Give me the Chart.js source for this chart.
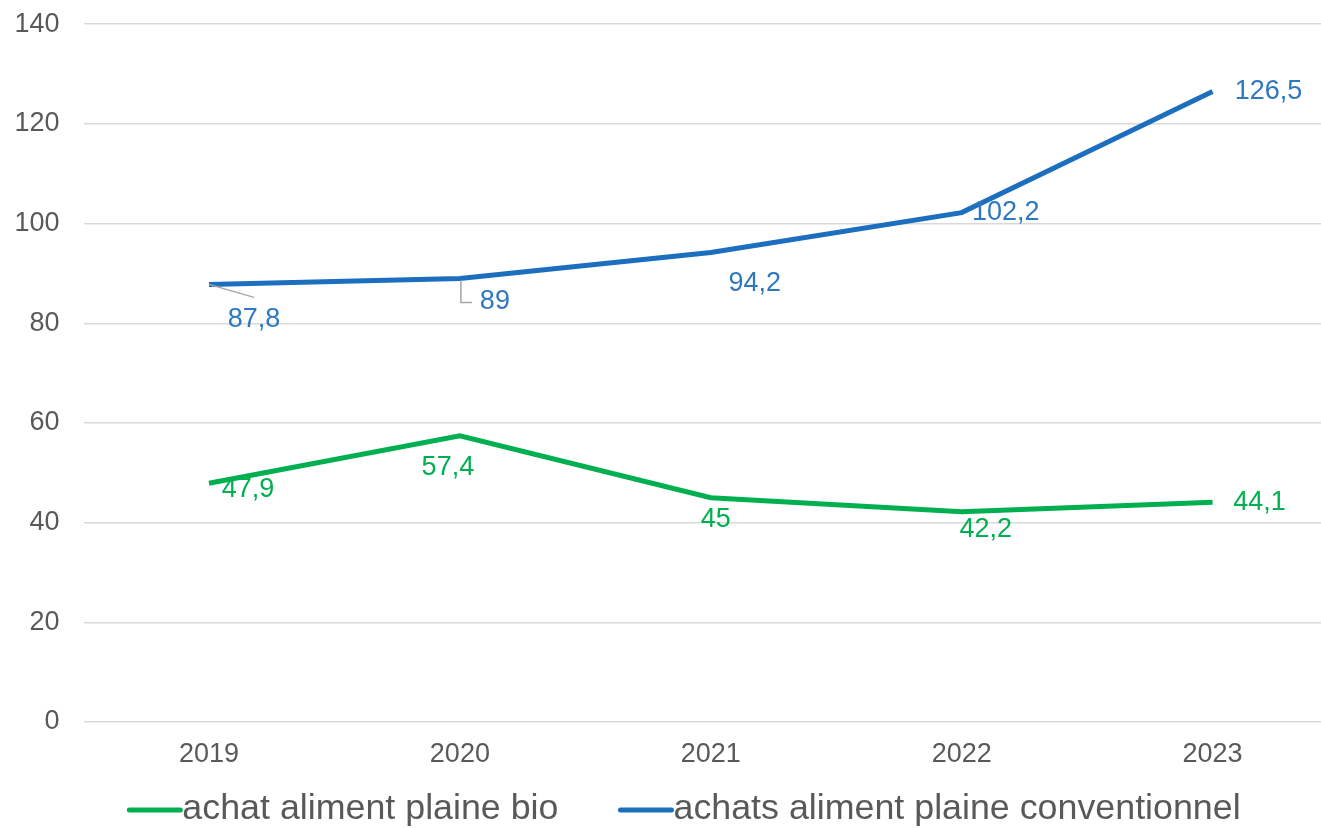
<!DOCTYPE html>
<html>
<head>
<meta charset="utf-8">
<script src="https://cdn.jsdelivr.net/npm/chart.js@4/dist/chart.umd.min.js"></script>
<style>
    html, body { margin: 0; padding: 0; background: #fff; overflow: hidden; }
    #wrap { width: 1340px; height: 862px; margin-top: -16px; }
</style>
</head>
<body>
<div id="wrap"><canvas id="chart"></canvas></div>
<script>
// Data
const years = ['2019', '2020', '2021', '2022', '2023'];
const bioValues = [47.9, 57.4, 45, 42.2, 44.1];
const convValues = [87.8, 89, 94.2, 102.2, 126.5];
const seriesNames = ['achat aliment plaine bio', 'achats aliment plaine conventionnel'];

// Label placement (pixel offsets from each point)
const bioOffsets = [[39, 6], [-12, 32], [5, 22], [24, 18], [47, 0]];
const convOffsets = [[45, 35], [35, 23], [44, 31], [44, 0], [56, 0]];

const GREEN = '#00B050';
const BLUE = '#1C6EBF';
const BLUE_LABEL = '#2E78C0';
const GREY_TEXT = '#595959';
const FONT = '"Liberation Sans", Arial, sans-serif';

const fmt = v => String(v).replace('.', ',');

// Draw value labels (and the two leader lines) next to the points
const valueLabels = {
    id: 'valueLabels',
    afterDatasetsDraw(chart) {
        const ctx = chart.ctx;
        const sets = [
            { meta: chart.getDatasetMeta(0), values: bioValues, offs: bioOffsets, color: GREEN },
            { meta: chart.getDatasetMeta(1), values: convValues, offs: convOffsets, color: BLUE_LABEL }
        ];
        ctx.save();

        // leader lines for the first two blue labels
        const c = sets[1].meta.data;
        ctx.strokeStyle = '#A6A6A6';
        ctx.lineWidth = 1.5;
        ctx.beginPath();
        ctx.moveTo(c[0].x, c[0].y);
        ctx.lineTo(c[0].x + 45, c[0].y + 13);
        ctx.moveTo(c[1].x + 1, c[1].y + 2);
        ctx.lineTo(c[1].x + 1, c[1].y + 24);
        ctx.lineTo(c[1].x + 12, c[1].y + 24);
        ctx.stroke();

        ctx.font = '27px ' + FONT;
        ctx.textAlign = 'center';
        ctx.textBaseline = 'middle';
        sets.forEach(s => {
            ctx.fillStyle = s.color;
            s.meta.data.forEach((pt, i) => {
                ctx.fillText(fmt(s.values[i]), pt.x + s.offs[i][0], pt.y + s.offs[i][1]);
            });
        });
        ctx.restore();
    }
};

// Legend: short line marker directly followed by the series name
const bottomLegend = {
    id: 'bottomLegend',
    afterDraw(chart) {
        const ctx = chart.ctx;
        const colors = [GREEN, BLUE];
        const markW = 51, gap = 62, y = chart.chartArea.bottom + 87;
        ctx.save();
        ctx.font = '35.8px ' + FONT;
        ctx.textBaseline = 'middle';
        const widths = seriesNames.map(n => markW + 2 + ctx.measureText(n).width);
        const total = widths[0] + gap + widths[1];
        let x = chart.width / 2 + 15 - total / 2;
        seriesNames.forEach((name, i) => {
            ctx.strokeStyle = colors[i];
            ctx.lineWidth = 5;
            ctx.lineCap = 'round';
            ctx.beginPath();
            ctx.moveTo(x, y + 1);
            ctx.lineTo(x + markW, y + 1);
            ctx.stroke();
            ctx.fillStyle = GREY_TEXT;
            ctx.fillText(name, x + markW + 2, y);
            x += widths[i] + gap;
        });
        ctx.restore();
    }
};

new Chart(document.getElementById('chart'), {
    type: 'line',
    data: {
        labels: years,
        datasets: [
            {
                label: seriesNames[0],
                data: bioValues,
                borderColor: GREEN,
                backgroundColor: GREEN,
                borderWidth: 5,
                pointRadius: 0,
                tension: 0
            },
            {
                label: seriesNames[1],
                data: convValues,
                borderColor: BLUE,
                backgroundColor: BLUE,
                borderWidth: 5,
                pointRadius: 0,
                tension: 0
            }
        ]
    },
    plugins: [valueLabels, bottomLegend],
    options: {
        responsive: true,
        maintainAspectRatio: false,
        animation: false,
        layout: { padding: { top: -6, left: -9.5, right: 2, bottom: 67.6 } },
        plugins: {
            tooltip: { enabled: false },
            legend: { display: false }
        },
        scales: {
            x: {
                offset: true,
                grid: { display: false },
                border: { display: false },
                ticks: {
                    color: GREY_TEXT,
                    padding: 8,
                    font: { family: FONT, size: 27 }
                }
            },
            y: {
                min: 0,
                max: 140,
                ticks: {
                    stepSize: 20,
                    color: GREY_TEXT,
                    padding: 24,
                    font: { family: FONT, size: 27 }
                },
                grid: { color: '#D9D9D9', lineWidth: 1.5, drawTicks: false },
                border: { display: false }
            }
        }
    }
});
</script>
</body>
</html>
